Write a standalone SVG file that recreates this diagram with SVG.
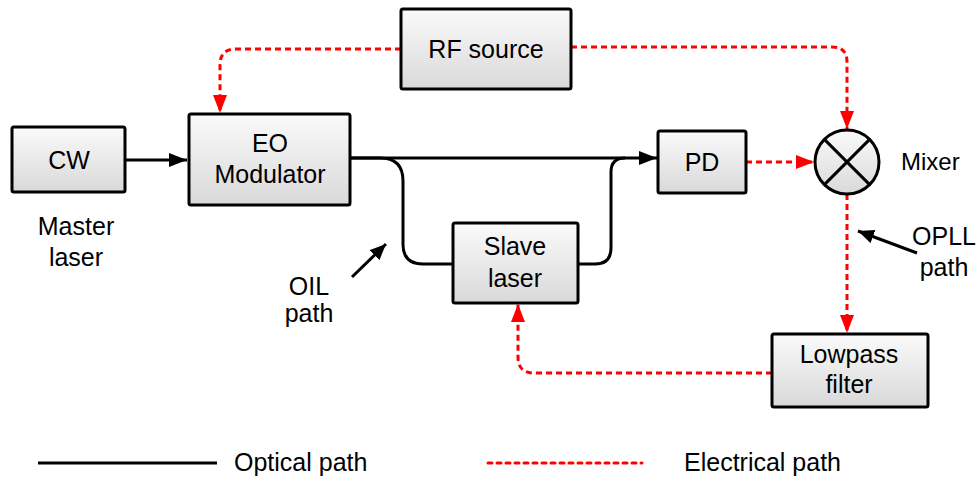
<svg xmlns="http://www.w3.org/2000/svg" width="980" height="480" viewBox="0 0 980 480">
<defs>
<linearGradient id="g" x1="0" y1="0" x2="0" y2="1">
<stop offset="0" stop-color="#fafafa"/>
<stop offset="1" stop-color="#d9d9d9"/>
</linearGradient>
<marker id="ab" markerUnits="userSpaceOnUse" markerWidth="20" markerHeight="16" refX="18" refY="7" orient="auto">
<path d="M0,0 L18,7 L0,14 Z" fill="#000"/>
</marker>
<marker id="ar" markerUnits="userSpaceOnUse" markerWidth="20" markerHeight="16" refX="18" refY="7" orient="auto">
<path d="M0,0 L18,7 L0,14 Z" fill="#ff0000"/>
</marker>
<marker id="as" markerUnits="userSpaceOnUse" markerWidth="18" markerHeight="16" refX="16" refY="7" orient="auto">
<path d="M0,0 L16,7 L0,14 Z" fill="#000"/>
</marker>
</defs>
<style>
.box{fill:url(#g);stroke:#000;stroke-width:3}
.t{font-family:"Liberation Sans",Arial,sans-serif;font-size:25px;fill:#000;text-anchor:middle}
.l{font-family:"Liberation Sans",Arial,sans-serif;font-size:25px;fill:#000}
.m{font-family:"Liberation Sans",Arial,sans-serif;font-size:24px;fill:#000}
.opt{fill:none;stroke:#000;stroke-width:3}
.ele{fill:none;stroke:#ff0000;stroke-width:3;stroke-dasharray:6 4}
</style>
<g id="connectors">
<line class="opt" x1="126" y1="160" x2="187" y2="160" marker-end="url(#ab)"/>
<line class="opt" x1="350" y1="158" x2="657" y2="158" marker-end="url(#ab)"/>
<path class="opt" d="M350,158 H380 Q403,158 403,181 V244 Q403,264 423,264 H453"/>
<path class="opt" d="M578,264 H595 Q611,264 611,248 V172 Q611,158 625,158"/>
<path class="ele" d="M401,49 H236 Q220,49 220,65 V113" marker-end="url(#ar)"/>
<path class="ele" d="M571,47 H832 Q847,47 847,62 V129" marker-end="url(#ar)"/>
<line class="ele" x1="746" y1="162" x2="814" y2="162" marker-end="url(#ar)"/>
<line class="ele" x1="847" y1="194" x2="847" y2="333" marker-end="url(#ar)"/>
<path class="ele" d="M772,373 H534 Q518,373 518,357 V304" marker-end="url(#ar)"/>
<line stroke="#000" stroke-width="3" x1="352" y1="277" x2="386" y2="244" marker-end="url(#as)"/>
<line stroke="#000" stroke-width="3" x1="917" y1="253" x2="858" y2="231" marker-end="url(#as)"/>
</g>
<g id="cw">
<rect class="box" x="12" y="127" width="113" height="65" rx="2"/>
<text class="t" x="69" y="169">CW</text>
</g>
<g id="master-label">
<text class="t" x="76" y="235">Master</text>
<text class="t" x="76" y="266">laser</text>
</g>
<g id="eo">
<rect class="box" x="189" y="114" width="161" height="91" rx="2"/>
<text class="t" x="270" y="152">EO</text>
<text class="t" x="270" y="183">Modulator</text>
</g>
<g id="rf">
<rect class="box" x="401" y="9" width="170" height="80" rx="2"/>
<text class="t" x="486" y="58">RF source</text>
</g>
<g id="pd">
<rect class="box" x="658" y="131" width="88" height="62" rx="2"/>
<text class="t" x="702" y="171">PD</text>
</g>
<g id="mixer">
<circle cx="847" cy="162" r="32" fill="url(#g)" stroke="#000" stroke-width="3"/>
<line x1="824.4" y1="139.4" x2="869.6" y2="184.6" stroke="#000" stroke-width="3"/>
<line x1="869.6" y1="139.4" x2="824.4" y2="184.6" stroke="#000" stroke-width="3"/>
<text class="m" x="901" y="170">Mixer</text>
</g>
<g id="slave">
<rect class="box" x="453" y="223" width="125" height="80" rx="2"/>
<text class="t" x="515" y="255">Slave</text>
<text class="t" x="515" y="287">laser</text>
</g>
<g id="lowpass">
<rect class="box" x="772" y="334" width="156" height="73" rx="2"/>
<text class="t" x="849" y="363">Lowpass</text>
<text class="t" x="849" y="393">filter</text>
</g>
<g id="oil-label">
<text class="t" x="309" y="295">OIL</text>
<text class="t" x="309" y="322">path</text>
</g>
<g id="opll-label">
<text class="t" x="944" y="245">OPLL</text>
<text class="t" x="944" y="276">path</text>
</g>
<g id="legend">
<line x1="38" y1="463" x2="217" y2="463" stroke="#000" stroke-width="3"/>
<text class="l" x="234" y="471">Optical path</text>
<line x1="488" y1="463" x2="642" y2="463" stroke="#ff0000" stroke-width="3" stroke-dasharray="4 5" stroke-linecap="round"/>
<text class="l" x="684" y="471">Electrical path</text>
</g>
</svg>
